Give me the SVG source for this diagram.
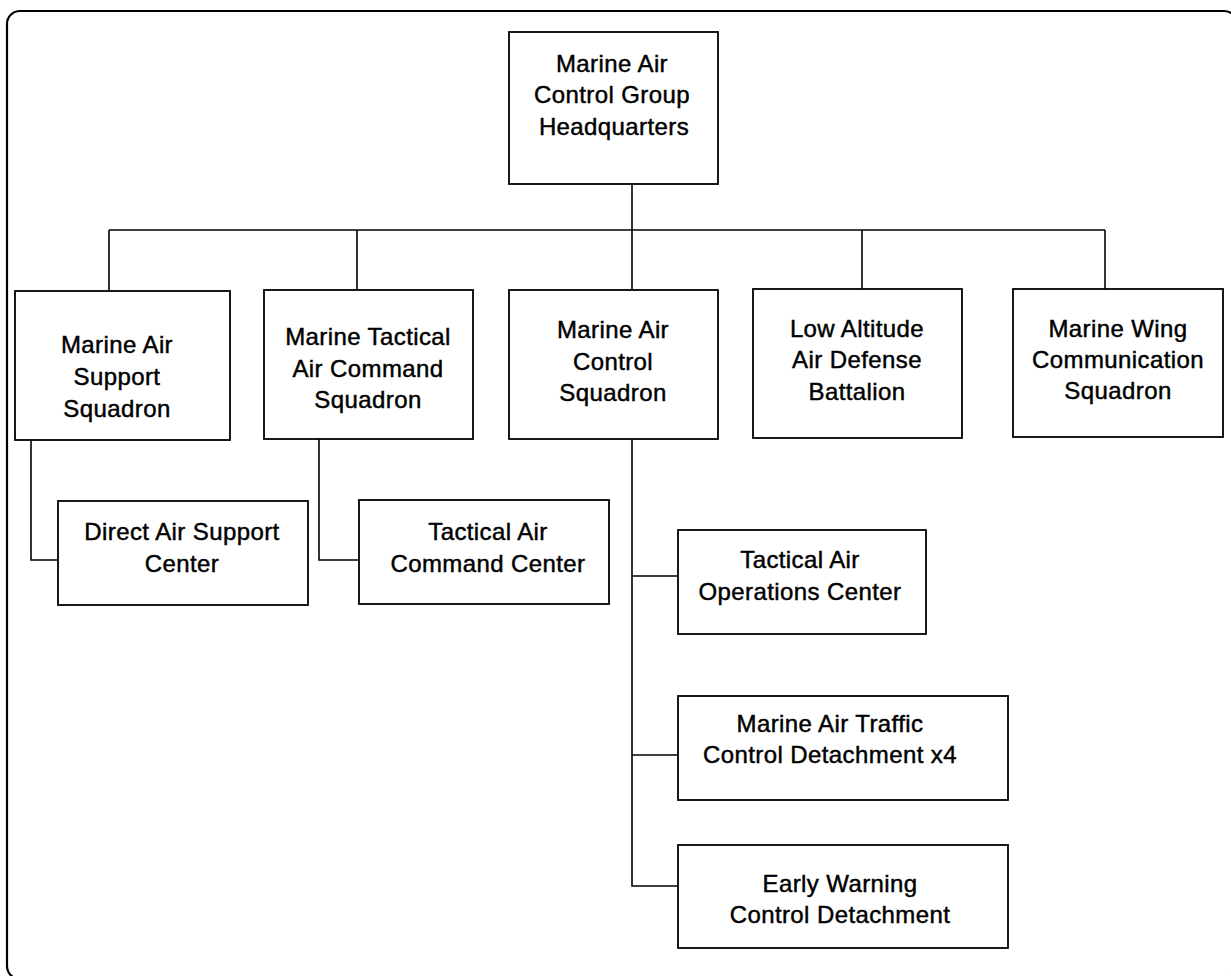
<svg xmlns="http://www.w3.org/2000/svg" width="1231" height="976" viewBox="0 0 1231 976">
<style>
  .frame { fill: none; stroke: #000; stroke-width: 2.2; }
  .box { fill: #fff; stroke: #000; stroke-width: 1.8; }
  .wire { fill: none; stroke: #000; stroke-width: 1.6; }
  text { font-family: "Liberation Sans", Arial, sans-serif; font-size: 24px; letter-spacing: 0.4px; fill: #000; stroke: #000; stroke-width: 0.45; text-anchor: middle; }
</style>
<rect width="1231" height="976" fill="#fff"/>
<rect class="frame" x="7" y="11" width="1230" height="968" rx="13" ry="13"/>
<g id="connectors">
  <path class="wire" d="M632,184 V290"/>
  <path class="wire" d="M109,230 H1105"/>
  <path class="wire" d="M109,230 V290"/>
  <path class="wire" d="M357,230 V290"/>
  <path class="wire" d="M862,230 V289"/>
  <path class="wire" d="M1105,230 V289"/>
  <path class="wire" d="M31,440 V560 H58"/>
  <path class="wire" d="M319,439 V560 H359"/>
  <path class="wire" d="M632,439 V886 H678"/>
  <path class="wire" d="M632,576 H678"/>
  <path class="wire" d="M632,755 H678"/>
</g>
<g id="hq">
  <rect class="box" x="509" y="32" width="209" height="152"/>
  <text x="612" y="72">Marine Air</text>
  <text x="612" y="103">Control Group</text>
  <text x="614" y="135">Headquarters</text>
</g>
<g id="mass">
  <rect class="box" x="15" y="291" width="215" height="149"/>
  <text x="117" y="353">Marine Air</text>
  <text x="117" y="385">Support</text>
  <text x="117" y="417">Squadron</text>
</g>
<g id="mtacs">
  <rect class="box" x="264" y="290" width="209" height="149"/>
  <text x="368" y="345">Marine Tactical</text>
  <text x="368" y="377">Air Command</text>
  <text x="368" y="408">Squadron</text>
</g>
<g id="macs">
  <rect class="box" x="509" y="290" width="209" height="149"/>
  <text x="613" y="338">Marine Air</text>
  <text x="613" y="370">Control</text>
  <text x="613" y="401">Squadron</text>
</g>
<g id="laad">
  <rect class="box" x="753" y="289" width="209" height="149"/>
  <text x="857" y="337">Low Altitude</text>
  <text x="857" y="368">Air Defense</text>
  <text x="857" y="400">Battalion</text>
</g>
<g id="mwcs">
  <rect class="box" x="1013" y="289" width="210" height="148"/>
  <text x="1118" y="337">Marine Wing</text>
  <text x="1118" y="368">Communication</text>
  <text x="1118" y="399">Squadron</text>
</g>
<g id="dasc">
  <rect class="box" x="58" y="501" width="250" height="104"/>
  <text x="182" y="540">Direct Air Support</text>
  <text x="182" y="572">Center</text>
</g>
<g id="tacc">
  <rect class="box" x="359" y="500" width="250" height="104"/>
  <text x="488" y="540">Tactical Air</text>
  <text x="488" y="572">Command Center</text>
</g>
<g id="taoc">
  <rect class="box" x="678" y="530" width="248" height="104"/>
  <text x="800" y="568">Tactical Air</text>
  <text x="800" y="600">Operations Center</text>
</g>
<g id="matcd">
  <rect class="box" x="678" y="696" width="330" height="104"/>
  <text x="830" y="732">Marine Air Traffic</text>
  <text x="830" y="763">Control Detachment x4</text>
</g>
<g id="ewcd">
  <rect class="box" x="678" y="845" width="330" height="103"/>
  <text x="840" y="892">Early Warning</text>
  <text x="840" y="923">Control Detachment</text>
</g>
</svg>
